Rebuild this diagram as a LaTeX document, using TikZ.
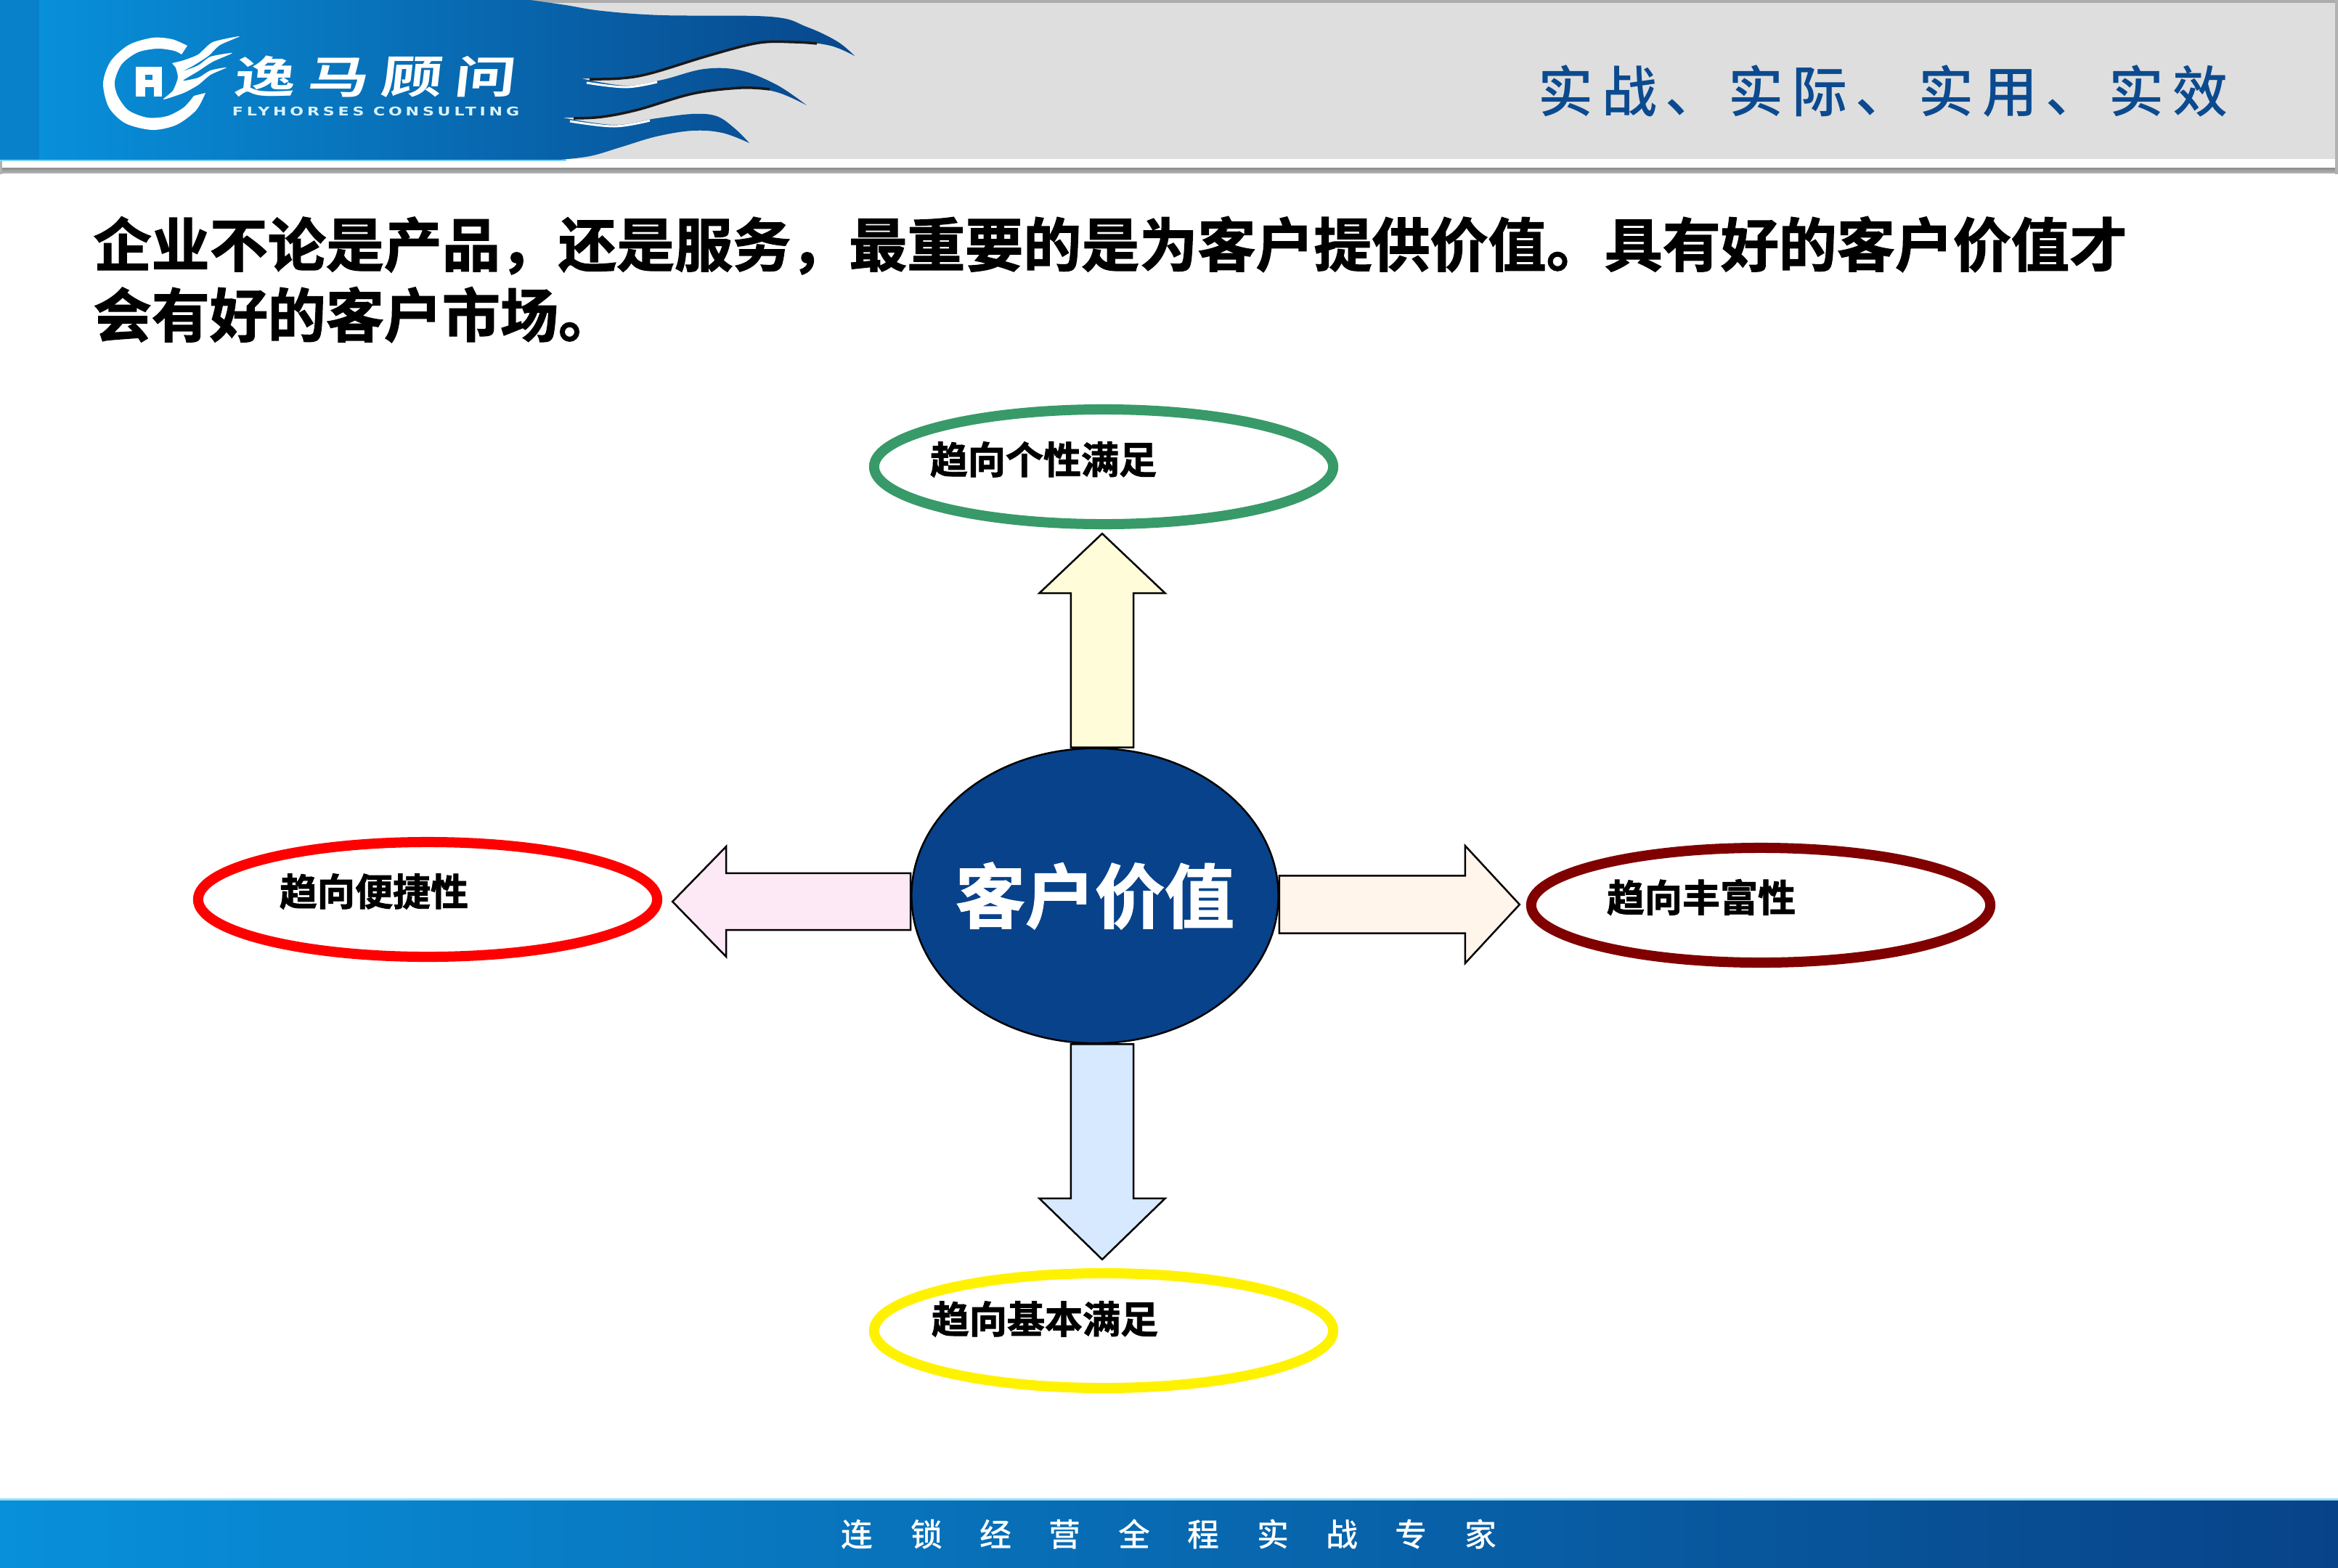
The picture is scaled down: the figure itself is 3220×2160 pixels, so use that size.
\documentclass[tikz,border=0pt]{standalone}
\usepackage{fontspec}
\usetikzlibrary{shapes,calc,positioning}
\newfontfamily\cjk[BoldFont={Noto Sans CJK SC Bold},BoldFeatures={FakeBold=1.6}]{Noto Sans CJK SC}
\newfontfamily\slogan[LetterSpace=15]{Noto Sans CJK SC Medium}
\newfontfamily\bottomline[LetterSpace=117]{Noto Sans CJK SC Medium}
\newfontfamily\brandcn[LetterSpace=20]{Noto Sans CJK SC Bold}
\newfontfamily\brandlat[LetterSpace=22]{DejaVu Sans Bold}
\definecolor{barL}{HTML}{0890DA}
\definecolor{barR}{HTML}{084388}
\definecolor{valblue}{HTML}{08428A}
\definecolor{sloganblue}{HTML}{0B4A8F}
\definecolor{ovalgreen}{HTML}{389A68}
\tikzstyle{blockline} = [draw=black, line width=0.025cm]
\newcommand{\blockarrow}[6]{%
  \coordinate (hb) at ($(#3)!#4!(#2)$);
  \draw[blockline, fill=#1] ($(#2)!#6!90:(#3)$) -- ($(hb)!#6!90:(#3)$) -- ($(hb)!#5!90:(#3)$)
    -- (#3) -- ($(hb)!#5!-90:(#3)$) -- ($(hb)!#6!-90:(#3)$) -- ($(#2)!#6!-90:(#3)$) -- cycle;}

\begin{document}
\begin{tikzpicture}[x=0.01cm,y=-0.01cm]
\tikzset{oval/.style={ellipse, draw, line width=0.14cm, fill=white, inner sep=0pt, minimum width=6.32cm, minimum height=1.58cm}}
\tikzset{ovaltext/.style={font=\cjk\bfseries\fontsize{14.8}{16}\selectfont, inner sep=0pt}}
\tikzset{wave/.style={smooth, tension=0.6}}
\useasboundingbox (0,0) rectangle (3220,2160);

% header
\fill[white] (0,0) rectangle (3220,2160);
\fill[gray!65] (0,0) rectangle (3220,4);
\fill[black!13] (0,4) rectangle (3220,219);
\shade[top color=black!45, bottom color=black!30] (0,231) rectangle (3220,238);
\fill[gray!60] (0,0) rectangle (3,240);
\fill[gray!60] (3216,0) rectangle (3220,240);

% blue flag with three waves
\fill[cyan!50!white] (0,219) rectangle (780,222);
\fill[barL!80!barR] (0,0) rectangle (55,220);
\shade[left color=barL, right color=barR!95!barL] (54,0) -- (730,0)
  -- plot[wave] coordinates {(730,0) (779,7) (829,15) (912,21) (1061,23) (1111,37) (1153,57) (1177,77)}
  -- plot[wave] coordinates {(1177,77) (1144,63) (1095,57) (1045,58) (978,75) (896,100) (854,107) (800,108)}
  -- plot[wave] coordinates {(800,108) (862,118) (912,110) (970,95) (1020,97) (1070,117) (1111,145)}
  -- plot[wave] coordinates {(1111,145) (1070,127) (1020,120) (954,128) (879,150) (829,160) (775,162)}
  -- plot[wave] coordinates {(775,162) (846,172) (904,163) (954,157) (987,160) (1012,177) (1032,197)}
  -- plot[wave] coordinates {(1032,197) (995,183) (954,180) (904,188) (854,203) (813,215) (771,220)}
  -- (54,220) -- cycle;
\draw[black!90, line width=0.035cm] plot[wave] coordinates {(1125,60) (1095,58) (1045,59) (978,76) (896,101) (854,108) (812,109)};
\draw[black!90, line width=0.035cm] plot[wave] coordinates {(1060,123) (1020,121) (954,129) (879,151) (829,161) (790,163)};
\draw[white, line width=0.03cm] plot[wave] coordinates {(808,114) (862,120) (905,113)};
\draw[white, line width=0.03cm] plot[wave] coordinates {(785,167) (846,174) (895,166)};

% logo
\fill[white] plot[smooth] coordinates {(258,63) (237,54) (210,52) (177,62) (152,85) (142,115) (150,148) (173,170) (210,179) (243,172) (270,152) (283,128)}
  -- plot[smooth] coordinates {(267,132) (253,148) (230,160) (203,162) (177,152) (162,132) (158,112) (168,88) (190,72) (217,67) (240,70) (250,75)} -- cycle;
\fill[white] plot[smooth, tension=0.4] coordinates {(237,87) (253,83) (273,75) (293,58) (330,50) (303,62) (287,77) (267,90) (252,98)
  (273,90) (290,78) (320,73) (293,85) (273,98) (252,111) (273,107) (290,97) (312,93) (290,103) (273,117) (253,128) (225,137) (238,125) (245,107) (242,93)} -- cycle;
\fill[white] (187,92) rectangle (223,133);
\fill[barL!90!barR] (200,103) rectangle (210,110);
\fill[barL!90!barR] (200,120) rectangle (212,133);
\node[anchor=west, inner sep=0pt, text=white, yscale=0.72, xslant=0.08] (brand) at (323,106) {\brandcn\fontsize{24}{26}\selectfont 逸马顾问};
\node[anchor=west, inner sep=0pt, text=white!85!cyan, xscale=1.335] (brandsub) at (319,153) {\brandlat\fontsize{4.7}{6}\selectfont FLYHORSES CONSULTING};

\node[anchor=west, inner sep=0pt, text=sloganblue] (motto) at (2118,126) {\slogan\fontsize{21.6}{24}\selectfont 实战、实际、实用、实效};

% title
\node[anchor=west, inner sep=0pt, align=left, font=\cjk\bfseries\fontsize{22.76}{27.6}\selectfont] (title) at (128,385)
  {企业不论是产品，还是服务，最重要的是为客户提供价值。具有好的客户价值才\\会有好的客户市场。};

% center and the four ovals
\node[ellipse, draw, line width=0.025cm, fill=valblue, inner sep=0pt, minimum width=5.05cm, minimum height=4.06cm] (val) at (1508,1234) {};
\node[text=white, inner sep=0pt, font=\cjk\bfseries\fontsize{27.3}{30}\selectfont] (valtext) at (val.center) {客户价值};
\node[oval, draw=ovalgreen] (tp) at (1520,643) {};
\node[oval, draw=red] (lf) at (589,1239) {};
\node[oval, draw=red!50!black] (rt) at (2425,1247) {};
\node[oval, draw=yellow] (bt) at (1520,1833) {};

\node[ovaltext] (tptext) at (1437,633) {趋向个性满足};
\node[ovaltext] (lftext) at (515,1228) {趋向便捷性};
\node[ovaltext] (rttext) at (2343,1236) {趋向丰富性};
\node[ovaltext] (bttext) at (1439,1817) {趋向基本满足};

% block arrows: fill, start, tip, head length, head half width, shaft half width
\blockarrow{yellow!15}{$(val.north)+(0.1cm,0)$}{$(tp.south)+(-0.02cm,-0.06cm)$}{0.82cm}{0.865cm}{0.43cm}
\blockarrow{blue!55!cyan!16}{$(val.south)+(0.1cm,0)$}{$(bt.north)+(-0.02cm,0.12cm)$}{0.84cm}{0.865cm}{0.43cm}
\blockarrow{orange!8}{$(val.east)+(0,-0.12cm)$}{$(rt.west)+(-0.09cm,0.01cm)$}{0.75cm}{0.81cm}{0.395cm}
\blockarrow{magenta!9}{$(val.west)+(0,-0.08cm)$}{$(lf.east)+(0.14cm,-0.03cm)$}{0.74cm}{0.76cm}{0.39cm}

% footer
\fill[cyan!40!white] (0,2064) rectangle (3220,2067);
\shade[left color=barL, right color=barR] (0,2067) rectangle (3220,2160);
\node[anchor=west, inner sep=0pt, text=white] (foot) at (1158,2114) {\bottomline\fontsize{12.5}{14}\selectfont 连锁经营全程实战专家};
\end{tikzpicture}
\end{document}
